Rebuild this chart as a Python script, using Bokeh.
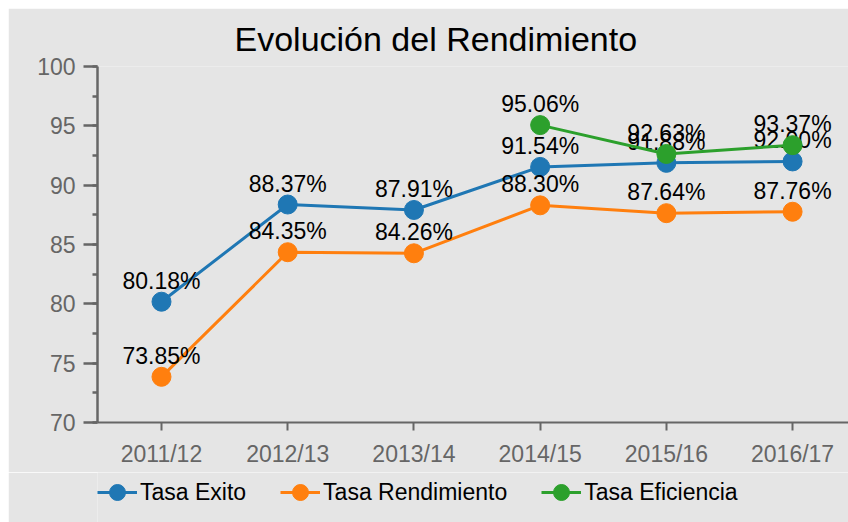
from bokeh.plotting import figure
from bokeh.layouts import column
from bokeh.models import Range1d, FixedTicker, SingleIntervalTicker, Legend, LegendItem, ColumnDataSource
from bokeh.core.properties import value
from bokeh.embed import file_html
from bokeh.resources import INLINE

categories = ["2011/12", "2012/13", "2013/14", "2014/15", "2015/16", "2016/17"]
tasa_exito = [80.18, 88.37, 87.91, 91.54, 91.88, 92.00]
tasa_rendimiento = [73.85, 84.35, 84.26, 88.30, 87.64, 87.76]
tasa_eficiencia = [None, None, None, 95.06, 92.63, 93.37]
series_names = ["Tasa Exito", "Tasa Rendimiento", "Tasa Eficiencia"]
series_values = [tasa_exito, tasa_rendimiento, tasa_eficiencia]
colors = ["#1f77b4", "#ff7f0e", "#2ca02c"]
title_text = "Evolución del Rendimiento"

FONT = "Liberation Sans"
BG = "#e5e5e5"
AXC = "#666666"

p = figure(width=840, height=464, frame_width=751, frame_height=356,
           output_backend="svg", toolbar_location=None,
           x_range=Range1d(-0.507, 5.443), y_range=Range1d(70, 100),
           min_border_left=89, min_border_right=0, min_border_top=58,
           min_border_bottom=50)
p.margin = (8, 0, 0, 8)
p.background_fill_color = BG
p.border_fill_color = BG
p.outline_line_color = None
p.grid.visible = False

p.title.text = title_text
p.title.text_font = FONT
p.title.text_font_size = "34px"
p.title.text_font_style = "normal"
p.title.text_color = "#000000"
p.title.align = "left"
p.title.offset = 137
p.title.standoff = 18

xi = list(range(len(categories)))
p.xaxis.ticker = FixedTicker(ticks=xi)
p.xaxis.major_label_overrides = {i: c for i, c in zip(xi, categories)}
p.yaxis.ticker = SingleIntervalTicker(interval=5, num_minor_ticks=2)

for ax in (p.xaxis[0], p.yaxis[0]):
    ax.axis_line_color = AXC
    ax.major_tick_line_color = AXC
    ax.minor_tick_line_color = AXC
    ax.major_label_text_color = AXC
    ax.major_label_text_font = FONT
    ax.major_label_text_font_size = "23px"
    ax.major_tick_in = 0
    ax.minor_tick_in = 0

p.yaxis.axis_line_width = 2.5
p.yaxis.major_tick_line_width = 2.5
p.yaxis.minor_tick_line_width = 2.5
p.yaxis.major_tick_out = 14
p.yaxis.minor_tick_out = 5
p.yaxis.major_label_standoff = 8
p.xaxis.axis_line_width = 2
p.xaxis.major_tick_line_width = 2
p.xaxis.major_tick_out = 8
p.xaxis.minor_tick_out = 0
p.xaxis.major_label_standoff = 10

sources = []
for name, vals, col in zip(series_names, series_values, colors):
    xs = [x for x, v in zip(xi, vals) if v is not None]
    ys = [v for v in vals if v is not None]
    src = ColumnDataSource(dict(x=xs, y=ys, lab=[f"{v:.2f}%" for v in ys]))
    sources.append(src)
    p.line("x", "y", source=src, line_color=col, line_width=3)
    p.scatter("x", "y", source=src, size=19, fill_color=col, line_color=col)
    p.text("x", "y", text="lab", source=src, text_align="center",
           text_baseline="alphabetic", y_offset=-21, text_color="#000000",
           text_font=value(FONT), text_font_size="23px")

# legend strip below the chart (series re-drawn out of view, only the legend shows)
p2 = figure(width=840, height=50, output_backend="svg", toolbar_location=None,
            x_axis_type=None, y_axis_type=None,
            x_range=Range1d(0, 1), y_range=Range1d(0, 1),
            min_border_left=0, min_border_right=0, min_border_top=0,
            min_border_bottom=0)
p2.margin = (0, 0, 0, 8)
p2.background_fill_color = BG
p2.border_fill_color = BG
p2.outline_line_color = None
p2.grid.visible = False

items = []
for name, col, src in zip(series_names, colors, sources):
    s2 = ColumnDataSource(dict(x=src.data["x"], y=src.data["y"]))
    lr = p2.line("x", "y", source=s2, line_color=col, line_width=3)
    sr = p2.scatter("x", "y", source=s2, size=19, fill_color=col, line_color=col)
    items.append(LegendItem(label=name, renderers=[lr, sr]))

legend = Legend(items=items, orientation="horizontal", ncols=3, nrows=1,
                location=(0, 8),
                glyph_width=40, glyph_height=44, label_standoff=3, spacing=34,
                padding=0, margin=0, label_text_font=FONT,
                label_text_font_size="23px", label_text_color="#000000",
                background_fill_alpha=0, border_line_alpha=0)
p2.add_layout(legend)

layout = column(p, p2, spacing=0)
open("out.html", "w").write(file_html(layout, INLINE))
